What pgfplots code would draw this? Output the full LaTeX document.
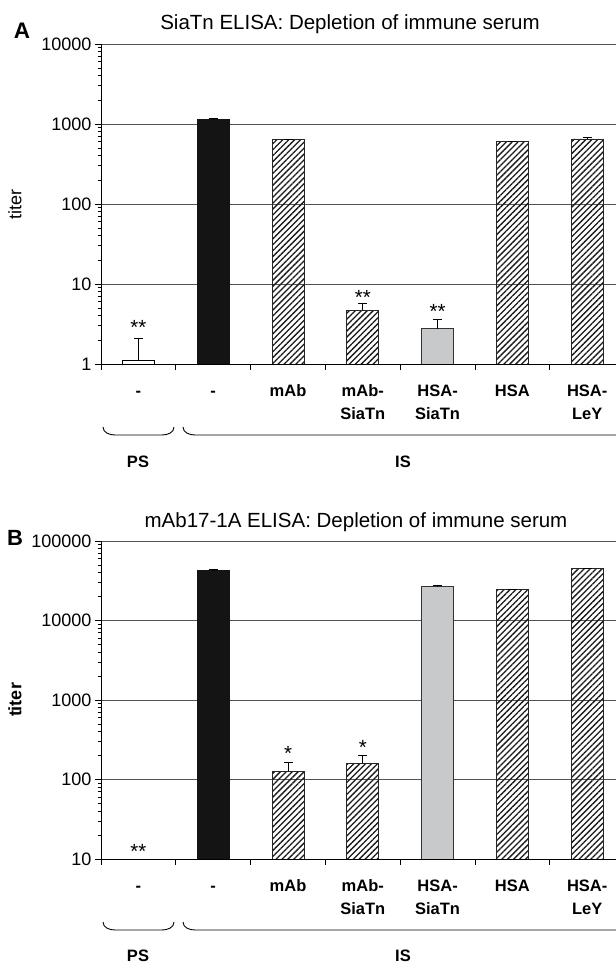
\documentclass[border=0pt]{standalone}
\usepackage{fontspec}
\setmainfont{Liberation Sans}
\usepackage{pgfplots}
\pgfplotsset{compat=1.18}
\usetikzlibrary{patterns.meta}

\definecolor{barblack}{HTML}{141414}
\definecolor{bargray}{HTML}{C8C9CB}
\definecolor{gridgray}{HTML}{555555}

\newcommand{\tickfont}{\fontsize{18bp}{20bp}\selectfont}
\newcommand{\catfont}{\fontsize{16.5bp}{23bp}\selectfont\bfseries}
\newcommand{\starfont}{\fontsize{20.5bp}{20.5bp}\selectfont}
\newcommand{\ph}{\vphantom{Hb}}

\pgfplotsset{
  every axis/.append style={
    scale only axis, width=515bp,
    anchor=south west,
    xmin=-0.5, xmax=6.385,
    axis x line*=bottom, axis y line*=left,
    axis line style={black, line width=0.9bp},
    ymajorgrids, grid style={gridgray, line width=0.9bp},
    tick align=outside,
    major tick length=6bp,
    tick style={black, line width=0.8bp},
    xtick={-0.5,0.5,1.5,2.5,3.5,4.5,5.5}, xticklabels={},
    extra x ticks={0,1,2,3,4,5,6},
    extra x tick labels={{\ph-},{\ph-},{\ph mAb},{\ph mAb-\\SiaTn},{\ph HSA-\\SiaTn},{\ph HSA},{\ph HSA-\\LeY}},
    extra x tick style={major tick length=0pt},
    yticklabel style={font=\tickfont},
    xticklabel style={font=\catfont, align=center, anchor=north, yshift=-17bp},
    /pgf/number format/assume math mode=true,
    clip=true,
  },
  mybar/.style={ybar, bar shift=0pt, bar width=32bp},
  eb/.style={error bars/.cd, y dir=plus, y explicit,
    error mark options={rotate=90, black, mark size=4.5bp, line width=0.8bp},
    error bar style={black, line width=0.8bp}},
  hatch/.style={mybar, draw=black!85, line width=0.8bp,
    pattern={Lines[angle=45, distance=4.2bp, line width=1.3bp]}, pattern color=black!90},
}

\begin{document}
\begin{tikzpicture}
\path[use as bounding box] (0,0) rectangle (616bp,963bp);
\clip (0,0) rectangle (616bp,963bp);

% ---------------- Panel A ----------------
\begin{axis}[ymode=log, at={(101bp,599bp)}, height=320bp,
  ymin=1, ymax=10000,
  ytick={1,10,100,1000,10000}, yticklabels={1,10,100,1000,10000}]
\addplot[mybar, fill=white, draw=black, line width=0.8bp, eb] coordinates {(0,1.1) +- (0,1.0)};
\addplot[mybar, fill=barblack, draw=barblack, eb] coordinates {(1,1150) +- (0,20)};
\addplot[hatch, eb] coordinates {(2,640) +- (0,0) (3,4.7) +- (0,1.1) (5,610) +- (0,0) (6,650) +- (0,25)};
\addplot[mybar, fill=bargray, draw=black!80, line width=0.8bp, eb] coordinates {(4,2.75) +- (0,0.9)};
\node[font=\starfont] at (axis cs:0,2.85) {**};
\node[font=\starfont] at (axis cs:3,6.76) {**};
\node[font=\starfont] at (axis cs:4,4.52) {**};
\end{axis}

% ---------------- Panel B ----------------
\begin{axis}[ymode=log, at={(101bp,104bp)}, height=318bp,
  ymin=10, ymax=100000,
  ytick={10,100,1000,10000,100000}, yticklabels={10,100,1000,10000,100000}]
\addplot[mybar, fill=barblack, draw=barblack, eb] coordinates {(1,43000) +- (0,500)};
\addplot[hatch, eb] coordinates {(2,127) +- (0,38) (3,160) +- (0,39) (5,24500) +- (0,0) (6,45500) +- (0,0)};
\addplot[mybar, fill=bargray, draw=black!80, line width=0.8bp, eb] coordinates {(4,27000) +- (0,400)};
\node[font=\starfont] at (axis cs:0,12.4) {**};
\node[font=\starfont] at (axis cs:2,215) {*};
\node[font=\starfont] at (axis cs:3,251) {*};
\end{axis}

% ---------------- Titles and labels ----------------
\node[font=\fontsize{20.5bp}{22bp}\selectfont] at (350bp,938.5bp) {SiaTn ELISA: Depletion of immune serum};
\node[font=\fontsize{20.5bp}{22bp}\selectfont] at (356bp,441bp) {mAb17-1A ELISA: Depletion of immune serum};
\node[font=\fontsize{22.5bp}{23bp}\selectfont\bfseries] at (22bp,932bp) {A};
\node[font=\fontsize{22bp}{23bp}\selectfont\bfseries] at (15bp,425bp) {B};
\node[rotate=90, font=\fontsize{18bp}{18bp}\selectfont] at (15bp,758bp) {titer};
\node[rotate=90, font=\fontsize{18bp}{18bp}\selectfont\bfseries] at (15bp,263bp) {titer};

% braces A
\draw[line width=0.9bp] (103bp,536bp) to[out=-90,in=180] (115bp,528bp) -- (162bp,528bp) to[out=0,in=-90] (174bp,536bp);
\draw[line width=0.9bp] (183bp,536bp) to[out=-90,in=180] (195bp,528bp) -- (618bp,528bp) to[out=0,in=-90] (630bp,536bp);
\node[font=\catfont] at (138bp,501bp) {PS};
\node[font=\catfont] at (403bp,501bp) {IS};

% braces B
\draw[line width=0.9bp] (103bp,41bp) to[out=-90,in=180] (115bp,33bp) -- (162bp,33bp) to[out=0,in=-90] (174bp,41bp);
\draw[line width=0.9bp] (183bp,41bp) to[out=-90,in=180] (195bp,33bp) -- (618bp,33bp) to[out=0,in=-90] (630bp,41bp);
\node[font=\catfont] at (138bp,7.5bp) {PS};
\node[font=\catfont] at (403bp,7.5bp) {IS};
\end{tikzpicture}
\end{document}
